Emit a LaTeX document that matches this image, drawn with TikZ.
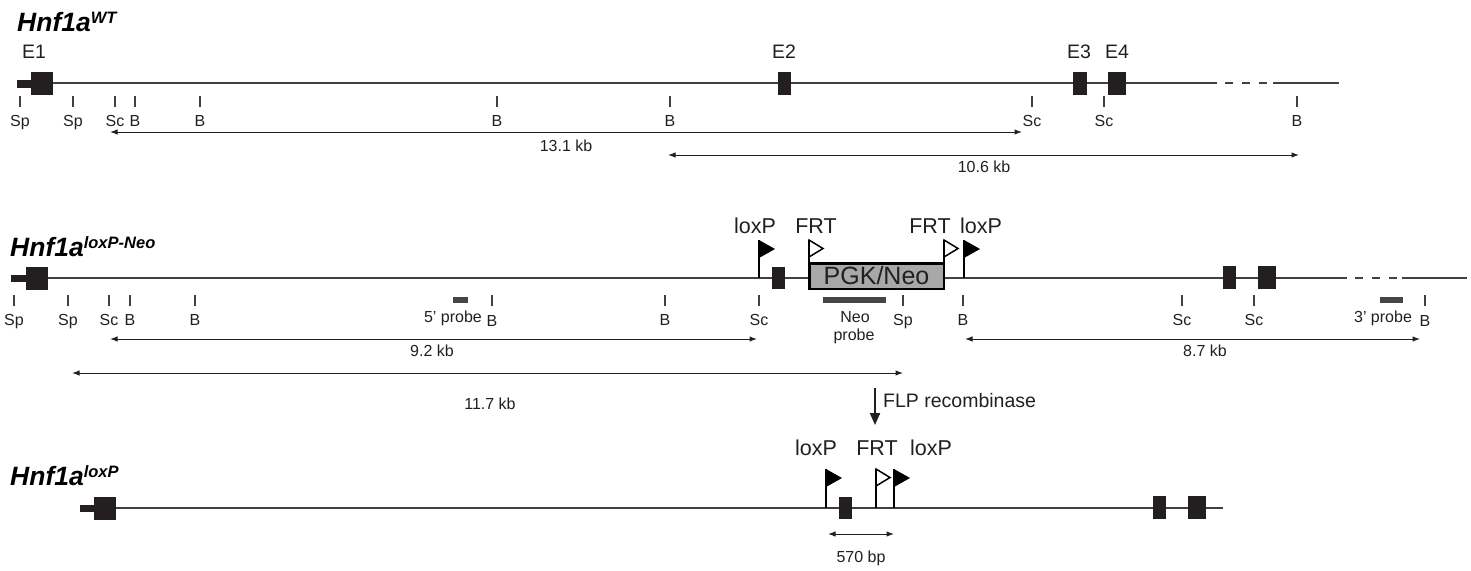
\documentclass[tikz,border=0pt]{standalone}
\usepackage{fontspec}
\setmainfont{Liberation Sans}
\usetikzlibrary{arrows.meta}
\definecolor{exblack}{HTML}{231F20}
\definecolor{lgray}{HTML}{404040}
\definecolor{probegray}{HTML}{454545}
\definecolor{pgkgray}{HTML}{A8A8A8}
\newcommand\rsite[5]{%
  \draw[tick] (#2,#3) -- ++(0,11);
  \node[site] (#1) at (#2,#4) {#5};}
\newcommand\loxflag[4]{%
  \draw[pole] (#2,#4) -- (#2,#3);
  \fill[lflag] (#2,#3) -- ++(16,9) -- ++(-16,9) -- cycle;
  \coordinate (#1) at (#2,#3);}
\newcommand\frtflag[4]{%
  \draw[fflag] (#2,#3) -- ++(14,8.5) -- ++(-14,8.5) -- cycle;
  \draw[pole] (#2,#4) -- (#2,#3);
  \coordinate (#1) at (#2,#3);}
\begin{document}
\begin{tikzpicture}[x=1pt,y=-1pt,
  gline/.style={draw=lgray,line width=1.5pt},
  gdash/.style={draw=lgray,line width=1.5pt,dash pattern=on 8pt off 9pt},
  tick/.style={draw=lgray,line width=1.1pt},
  site/.style={font=\fontsize{16}{18}\selectfont,anchor=base,inner sep=0pt,text=exblack},
  exon/.style={fill=exblack,draw=none,inner sep=0pt,rectangle},
  probe/.style={fill=probegray,draw=none,inner sep=0pt,rectangle},
  dim/.style={draw=exblack,line width=1pt,{Latex[length=7.5pt,width=5.5pt]}-{Latex[length=7.5pt,width=5.5pt]}},
  title/.style={anchor=base west,inner sep=0pt,text=black},
  exlabel/.style={font=\fontsize{19.5}{21}\selectfont,anchor=base,inner sep=0pt,text=exblack},
  flaglabel/.style={font=\fontsize{21.5}{23}\selectfont,anchor=base,inner sep=0pt,text=exblack},
  pole/.style={draw=black,line width=2pt},
  lflag/.style={fill=black,draw=none},
  fflag/.style={draw=black,fill=white,line width=1.5pt,line join=miter},
]
\useasboundingbox (0,0) rectangle (1471,570);

% ---------------- Row 1: WT ----------------
\node[title] (t1) at (17,31) {\bfseries\itshape\fontsize{26.5}{28}\selectfont Hnf1a\raisebox{8pt}{\fontsize{16.5}{18}\selectfont WT}};
\draw[gline] (53,83) -- (1217,83);
\draw[gdash] (1225,83) -- (1267,83);
\draw[gline] (1273,83) -- (1339,83);
\node[exon,minimum width=14,minimum height=8] (r1s) at (24,83.5) {};
\node[exon,minimum width=22,minimum height=23] (r1e1) at (42,83.5) {};
\node[exon,minimum width=13,minimum height=23] (r1e2) at (784.5,83.5) {};
\node[exon,minimum width=14,minimum height=23] (r1e3) at (1080,83.5) {};
\node[exon,minimum width=18,minimum height=23] (r1e4) at (1117,83.5) {};
\node[exlabel] (l1e1) at (34,58) {E1};
\node[exlabel] (l1e2) at (784,58) {E2};
\node[exlabel] (l1e3) at (1079,58) {E3};
\node[exlabel] (l1e4) at (1117,58) {E4};
\rsite{s1a}{20}{96}{126}{Sp}
\rsite{s1b}{73}{96}{126}{Sp}
\rsite{s1c}{115}{96}{126}{Sc}
\rsite{s1d}{135}{96}{126}{B}
\rsite{s1e}{200}{96}{126}{B}
\rsite{s1f}{497}{96}{126}{B}
\rsite{s1g}{670}{96}{126}{B}
\rsite{s1h}{1032}{96}{126}{Sc}
\rsite{s1i}{1104}{96}{126}{Sc}
\rsite{s1j}{1297}{96}{126}{B}
\coordinate (d1L) at (110,132);
\coordinate (d1R) at (1022,132);
\draw[dim] (d1L) -- (d1R);
\node[site] (k1) at (566,151) {13.1 kb};
\coordinate (d2L) at (668,155);
\coordinate (d2R) at (1299,155);
\draw[dim] (d2L) -- (d2R);
\node[site] (k2) at (984,172) {10.6 kb};

% ---------------- Row 2: loxP-Neo ----------------
\node[title] (t2) at (10,256) {\bfseries\itshape\fontsize{26.5}{28}\selectfont Hnf1a\raisebox{8pt}{\fontsize{16.5}{18}\selectfont loxP-Neo}};
\draw[gline] (48,278) -- (1347,278);
\draw[gdash] (1355,278) -- (1397,278);
\draw[gline] (1402,278) -- (1467,278);
\node[exon,minimum width=15,minimum height=7] (r2s) at (18.5,278.5) {};
\node[exon,minimum width=22,minimum height=23] (r2e1) at (37,278.5) {};
\node[exon,minimum width=13,minimum height=22] (r2e2) at (778.5,278) {};
\node[exon,minimum width=13,minimum height=23] (r2e3) at (1229.5,277.5) {};
\node[exon,minimum width=18,minimum height=23] (r2e4) at (1267,277.5) {};
\node[draw=black,line width=2.5pt,fill=pgkgray,minimum width=134.5,minimum height=25.5,inner sep=0pt,font=\fontsize{25}{27}\selectfont,text=exblack] (pgk) at (876.5,276) {PGK/Neo};
\loxflag{lx1}{759}{240}{278}
\frtflag{fr1}{809}{240}{262}
\frtflag{fr2}{944}{240}{262}
\loxflag{lx2}{964}{240}{278}
\node[flaglabel] (ll1) at (755,233) {loxP};
\node[flaglabel] (lf1) at (816,233) {FRT};
\node[flaglabel] (lf2) at (930,233) {FRT};
\node[flaglabel] (ll2) at (981,233) {loxP};
\node[probe,minimum width=15,minimum height=6] (p5) at (460.5,300) {};
\node[probe,minimum width=63,minimum height=6] (pn) at (854.5,300) {};
\node[probe,minimum width=23,minimum height=6] (p3) at (1391.5,300) {};
\node[site] (lp5) at (453,322) {5’ probe};
\node[site] (lpn1) at (855,322) {Neo};
\node[site] (lpn2) at (854,340) {probe};
\node[site] (lp3) at (1383,322) {3’ probe};
\rsite{s2a}{14}{295}{325}{Sp}
\rsite{s2b}{68}{295}{325}{Sp}
\rsite{s2c}{109}{295}{325}{Sc}
\rsite{s2d}{130}{295}{325}{B}
\rsite{s2e}{195}{295}{325}{B}
\rsite{s2f}{492}{295}{326}{B}
\rsite{s2g}{665}{295}{325}{B}
\rsite{s2h}{759}{295}{325}{Sc}
\rsite{s2i}{903}{295}{325}{Sp}
\rsite{s2j}{963}{295}{325}{B}
\rsite{s2k}{1182}{295}{325}{Sc}
\rsite{s2l}{1254}{295}{325}{Sc}
\rsite{s2m}{1425}{295}{326}{B}
\coordinate (d3L) at (110,339);
\coordinate (d3R) at (757,339);
\draw[dim] (d3L) -- (d3R);
\node[site] (k3) at (432,356) {9.2 kb};
\coordinate (d4L) at (965,339);
\coordinate (d4R) at (1420,339);
\draw[dim] (d4L) -- (d4R);
\node[site] (k4) at (1205,356) {8.7 kb};
\coordinate (d5L) at (72,373);
\coordinate (d5R) at (903,373);
\draw[dim] (d5L) -- (d5R);
\node[site] (k5) at (490,409) {11.7 kb};

% ---------------- FLP ----------------
\coordinate (flpA) at (875,388);
\coordinate (flpB) at (875,425);
\draw[draw=exblack,line width=2pt,-{Triangle[length=12pt,width=10pt]}] (flpA) -- (flpB);
\node[anchor=base west,inner sep=0pt,font=\fontsize{19.5}{21}\selectfont,text=exblack] (flp) at (883,407) {FLP recombinase};

% ---------------- Row 3: loxP ----------------
\node[title] (t3) at (10,485) {\bfseries\itshape\fontsize{26.5}{28}\selectfont Hnf1a\raisebox{8pt}{\fontsize{16.5}{18}\selectfont loxP}};
\draw[gline] (116,508) -- (1223,508);
\node[exon,minimum width=14,minimum height=7] (r3s) at (87,508.5) {};
\node[exon,minimum width=22,minimum height=23] (r3e1) at (105,508.5) {};
\node[exon,minimum width=13,minimum height=22] (r3e2) at (845.5,508) {};
\node[exon,minimum width=13,minimum height=23] (r3e3) at (1159.5,507.5) {};
\node[exon,minimum width=18,minimum height=23] (r3e4) at (1197,507.5) {};
\loxflag{lx3}{826}{469}{508}
\frtflag{fr3}{876}{469}{508}
\loxflag{lx4}{894}{469}{508}
\node[flaglabel] (ll3) at (816,455) {loxP};
\node[flaglabel] (lf3) at (877,455) {FRT};
\node[flaglabel] (ll4) at (931,455) {loxP};
\coordinate (d6L) at (828,534);
\coordinate (d6R) at (894,534);
\draw[dim] (d6L) -- (d6R);
\node[site] (k6) at (861,562) {570 bp};
\end{tikzpicture}
\end{document}
